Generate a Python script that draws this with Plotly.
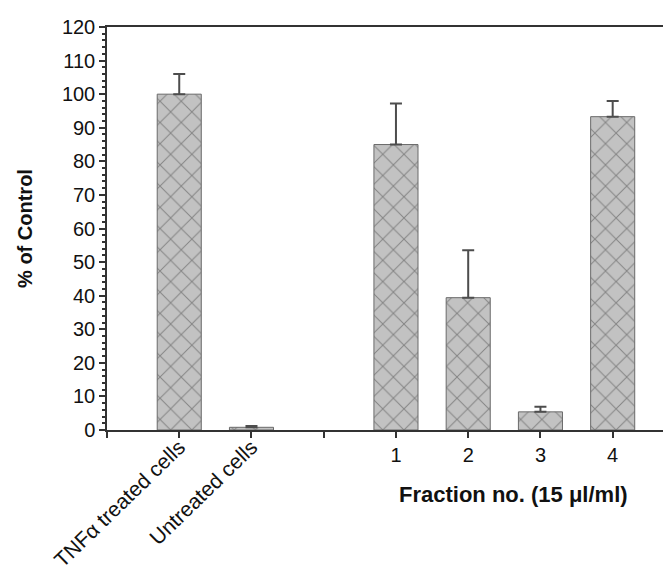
import plotly.graph_objects as go

# ---- data ----
categories = ["TNFα treated cells", "Untreated cells", "1", "2", "3", "4"]
values = [100, 0.8, 85, 39.4, 5.4, 93.3]
errors_up = [6, 0.4, 12.2, 14.1, 1.5, 4.7]
rotated_labels = ["TNFα treated cells", "Untreated cells"]
fraction_labels = ["1", "2", "3", "4"]
y_ticks = list(range(0, 121, 10))

# full category order on the axis (padding slot at the y-axis and a gap slot)
pad, gap = "\u200b", "\u200b\u200b"
cat_order = [pad] + rotated_labels + [gap] + fraction_labels
tick_text_main = ["" if c not in fraction_labels else c for c in cat_order]

FONT = "Liberation Sans, Arial, sans-serif"
AXIS_COL = "#333333"

ML, MT, MR, MB = 99, 19, 0, 150
W, H = 671, 572

fig = go.Figure()
fig.add_trace(go.Bar(
    x=categories, y=values, width=0.61,
    marker=dict(
        color="#c2c2c2",
        line=dict(color="#6a6a6a", width=1),
        pattern=dict(shape="x", size=15, solidity=0.13, fgcolor="#474747",
                     fillmode="overlay"),
    ),
    error_y=dict(type="data", symmetric=False, array=errors_up,
                 arrayminus=[0] * len(errors_up),
                 color="#4d4d4d", thickness=2, width=6),
    showlegend=False, hoverinfo="x+y",
))
# invisible trace to carry the rotated-label axis
fig.add_trace(go.Scatter(x=rotated_labels, y=[None, None], xaxis="x2",
                         mode="markers", showlegend=False, hoverinfo="skip"))

x_range = [0, 7.918]
fig.update_layout(
    width=W, height=H,
    margin=dict(l=ML, t=MT, r=MR, b=MB),
    paper_bgcolor="white", plot_bgcolor="white",
    font=dict(family=FONT, size=20, color="#111111"),
    xaxis=dict(
        type="category", categoryorder="array", categoryarray=cat_order,
        range=x_range, tickmode="array", tickvals=cat_order,
        ticktext=tick_text_main, tickangle=0, automargin=False,
        ticks="outside", ticklen=6, tickwidth=1.5, tickcolor=AXIS_COL,
        showline=True, linecolor=AXIS_COL, linewidth=1.5, mirror=True,
        showgrid=False, zeroline=False, tickfont=dict(size=20),
    ),
    xaxis2=dict(
        type="category", categoryorder="array", categoryarray=cat_order,
        range=x_range, overlaying="x", anchor="y", side="bottom",
        tickmode="array", tickvals=rotated_labels, ticktext=rotated_labels,
        tickangle=-44, ticks="", ticklen=6, showline=False, showgrid=False,
        zeroline=False, tickfont=dict(size=21), automargin=False,
    ),
    yaxis=dict(
        range=[0, 120], tickmode="array", tickvals=y_ticks, automargin=False,
        ticks="outside", ticklen=6, tickwidth=1.5, tickcolor=AXIS_COL,
        minor=dict(dtick=2, ticks="outside", ticklen=3, tickcolor=AXIS_COL,
                   showgrid=False),
        showline=True, linecolor=AXIS_COL, linewidth=1.5,
        showgrid=False, zeroline=False, tickfont=dict(size=20),
        title=dict(text="<b>% of Control</b>", font=dict(size=20), standoff=24),
    ),
)
# axis title for the fractions, placed in pixels converted to paper coords
pw = W - ML - MR
ph = H - MT - MB
fig.add_annotation(
    text="<b>Fraction no. (15 μl/ml)</b>",
    x=(505 - ML) / pw, y=(H - MB - 486) / ph,
    xref="paper", yref="paper", xanchor="center", yanchor="middle",
    showarrow=False, font=dict(size=22),
)

fig.write_html("out.html")
